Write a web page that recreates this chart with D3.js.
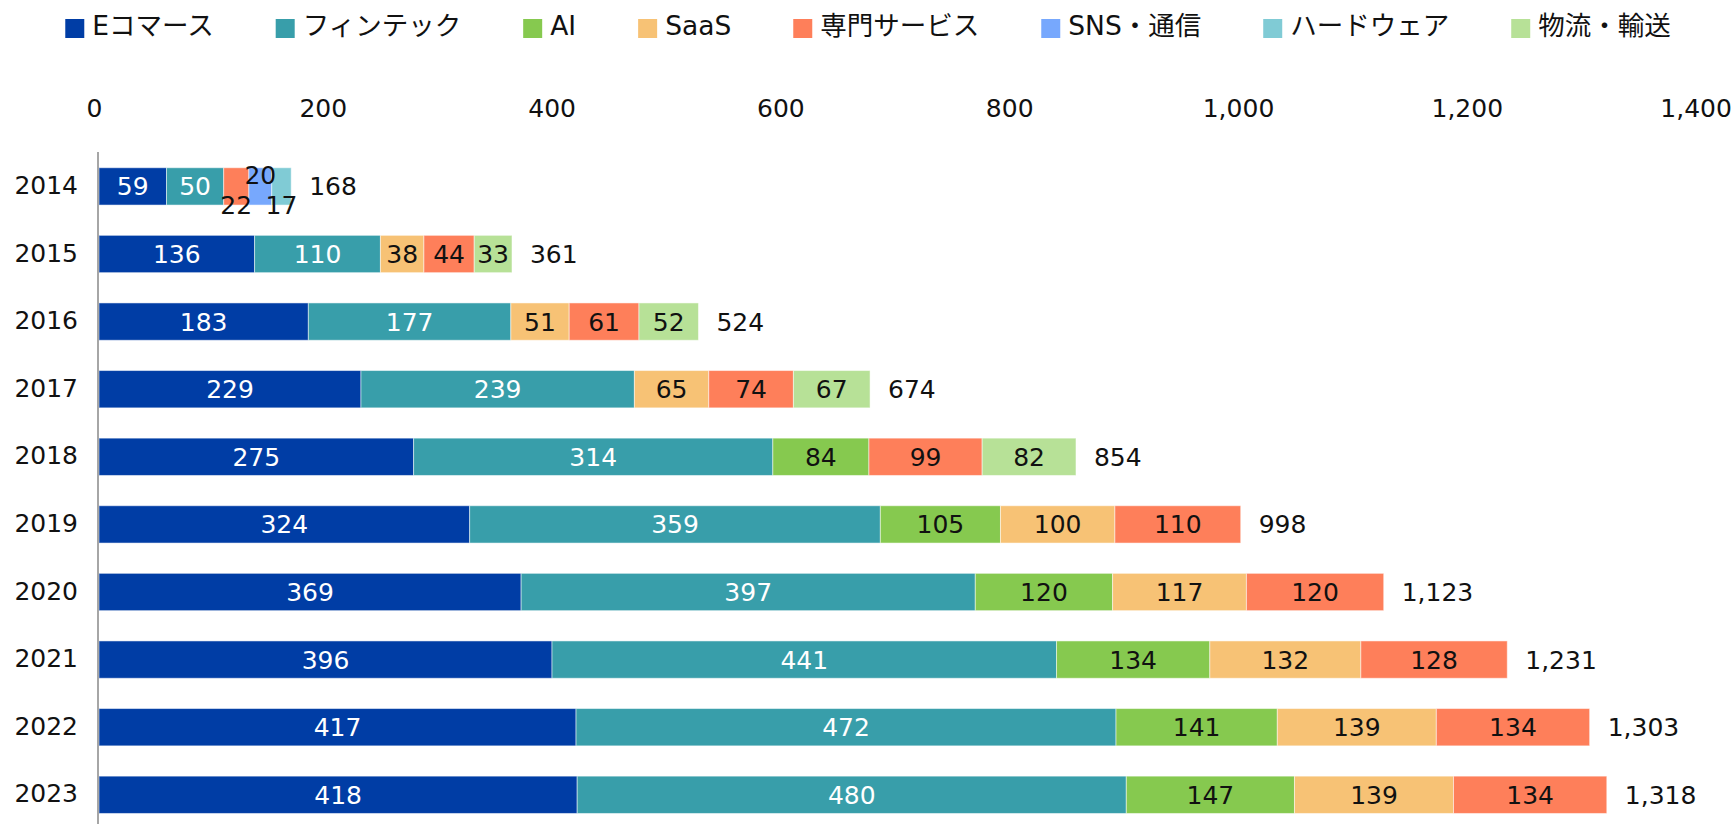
<!DOCTYPE html>
<html>
<head>
<meta charset="utf-8">
<script src="https://cdn.jsdelivr.net/npm/d3@7"></script>
<style>
  body { margin: 0; background: #fff; }
  text { font-family: "DejaVu Sans", "Noto Sans CJK JP", sans-serif; }
</style>
</head>
<body>
<div id="chart"></div>
<script>
// data
var years = ["2014", "2015", "2016", "2017", "2018", "2019", "2020", "2021", "2022", "2023"];
var categories = ["Eコマース", "フィンテック", "AI", "SaaS", "専門サービス", "SNS・通信", "ハードウェア", "物流・輸送"];
var colors = ["#003da5", "#389eaa", "#86c94f", "#f7c275", "#fe7f5a", "#77a8fd", "#80cbd5", "#b7e197"];
var tickValues = [0, 200, 400, 600, 800, 1000, 1200, 1400];

var ecommerce    = [59, 136, 183, 229, 275, 324, 369, 396, 417, 418];
var fintech      = [50, 110, 177, 239, 314, 359, 397, 441, 472, 480];
var ai           = [0, 0, 0, 0, 84, 105, 120, 134, 141, 147];
var saas         = [0, 38, 51, 65, 0, 100, 117, 132, 139, 139];
var professional = [22, 44, 61, 74, 99, 110, 120, 128, 134, 134];
var sns          = [20, 0, 0, 0, 0, 0, 0, 0, 0, 0];
var hardware     = [17, 0, 0, 0, 0, 0, 0, 0, 0, 0];
var logistics    = [0, 33, 52, 67, 82, 0, 0, 0, 0, 0];

var series = [ecommerce, fintech, ai, saas, professional, sns, hardware, logistics];

var width = 1736, height = 824;

// table for the stack
var rows = years.map(function(y, i) {
  var r = { year: y };
  categories.forEach(function(c, k) { r[c] = series[k][i]; });
  return r;
});

var stacked = d3.stack().keys(categories)(rows);
var totals = rows.map(function(r) { return d3.sum(categories, function(c) { return r[c]; }); });

var svg = d3.select("#chart").append("svg")
  .attr("width", width)
  .attr("height", height);

var x = d3.scaleLinear()
  .domain([0, 1400])
  .range([99, 1700.6]);

var y = d3.scaleBand()
  .domain(years)
  .range([152.6, 828.6])
  .paddingInner(0.448)
  .paddingOuter(0.224);

var color = d3.scaleOrdinal().domain(categories).range(colors);

// top axis
var xAxis = svg.append("g")
  .attr("transform", "translate(0,120)")
  .call(d3.axisTop(x).tickValues(tickValues).tickFormat(d3.format(",")).tickSize(0).tickPadding(3));
xAxis.select(".domain").remove();
xAxis.selectAll("text")
  .attr("dx", -5)
  .style("font-size", "25px")
  .style("fill", "#111");

// bars
var layers = svg.selectAll("g.layer")
  .data(stacked)
  .enter().append("g")
  .attr("class", "layer")
  .attr("fill", function(d) { return color(d.key); });

layers.selectAll("rect")
  .data(function(d) { return d.filter(function(p) { return p[1] - p[0] > 0; }); })
  .enter().append("rect")
  .attr("x", function(d) { return x(d[0]); })
  .attr("y", function(d) { return y(d.data.year); })
  .attr("width", function(d) { return x(d[1]) - x(d[0]); })
  .attr("height", y.bandwidth())
  .attr("stroke", "#fff")
  .attr("stroke-opacity", 0.5)
  .attr("stroke-width", 1);

// segment labels
var labelG = svg.append("g");
var narrowCount = {};
stacked.forEach(function(layer, k) {
  layer.forEach(function(p) {
    var v = p[1] - p[0];
    if (v <= 0) return;
    var cx = (x(p[0]) + x(p[1])) / 2;
    var cy = y(p.data.year) + y.bandwidth() / 2;
    var t = labelG.append("text")
      .attr("x", cx)
      .attr("y", cy)
      .attr("dy", "0.36em")
      .attr("text-anchor", "middle")
      .style("font-size", "25px")
      .style("fill", k < 2 ? "#fff" : "#111")
      .text(v);
    var w = t.node().getComputedTextLength();
    // labels that don't fit get pushed below / above the bar, alternately
    if (w > x(p[1]) - x(p[0]) - 2) {
      var n = narrowCount[p.data.year] || 0;
      narrowCount[p.data.year] = n + 1;
      t.attr("y", cy + (n % 2 === 0 ? 19 : -11))
        .style("fill", "#111");
    }
  });
});

// totals
svg.append("g").selectAll("text")
  .data(years)
  .enter().append("text")
  .attr("x", function(d, i) { return x(totals[i]) + 18; })
  .attr("y", function(d) { return y(d) + y.bandwidth() / 2; })
  .attr("dy", "0.36em")
  .style("font-size", "25px")
  .style("fill", "#111")
  .text(function(d, i) { return d3.format(",")(totals[i]); });

// year labels
svg.append("g").selectAll("text")
  .data(years)
  .enter().append("text")
  .attr("x", 78)
  .attr("y", function(d) { return y(d) + y.bandwidth() / 2 - 1.5; })
  .attr("dy", "0.36em")
  .attr("text-anchor", "end")
  .style("font-size", "25px")
  .style("fill", "#111")
  .text(function(d) { return d; });

// category axis line
svg.append("line")
  .attr("x1", 98).attr("x2", 98)
  .attr("y1", 152).attr("y2", height)
  .attr("stroke", "#a6a6a6")
  .attr("stroke-width", 2);

// legend
var legend = svg.append("g");
var lx = 0;
categories.forEach(function(c) {
  var item = legend.append("g").attr("transform", "translate(" + lx + ",0)");
  item.append("rect")
    .attr("x", 0).attr("y", 19)
    .attr("width", 19).attr("height", 19)
    .attr("fill", color(c));
  var t = item.append("text")
    .attr("x", 27).attr("y", 35)
    .style("font-size", "26.5px")
    .style("fill", "#111")
    .text(c);
  lx += 27 + t.node().getComputedTextLength() + 62;
});
var legendW = lx - 62;
legend.attr("transform", "translate(" + (width / 2 - legendW / 2) + ",0)");
</script>
</body>
</html>
